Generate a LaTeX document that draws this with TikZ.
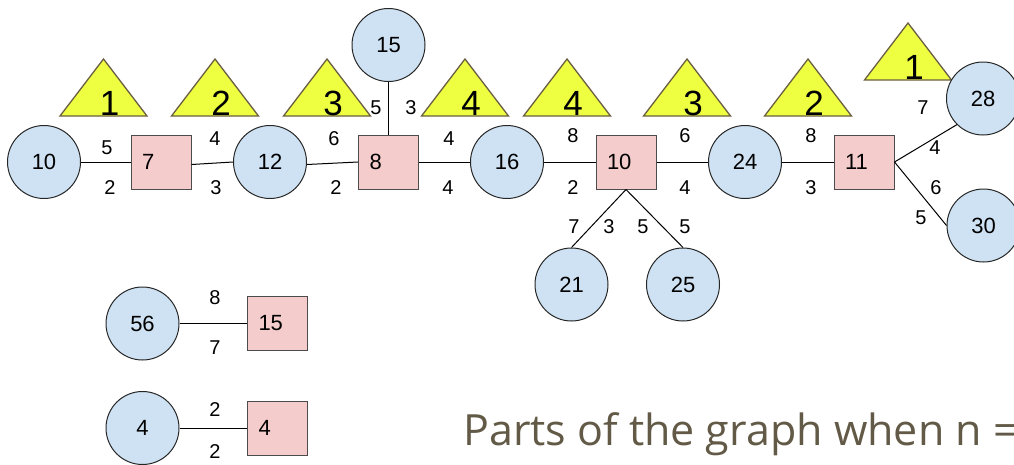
\documentclass[tikz,border=0pt]{standalone}
\usepackage{fontspec}
\setmainfont{Liberation Sans}
\newfontfamily\captionfont{Open Sans}
\definecolor{circfill}{HTML}{CFE2F3}
\definecolor{sqfill}{HTML}{F4CCCC}
\definecolor{trifill}{HTML}{EEFF41}
\definecolor{triedge}{HTML}{6B5E42}
\definecolor{captioncol}{HTML}{625A47}
\begin{document}
\begin{tikzpicture}[x=1pt,y=-1pt,
  vert/.style={circle,draw=black!85,line width=1pt,fill=circfill,minimum size=73pt,inner sep=0pt,font=\fontsize{22}{22}\selectfont},
  sq/.style={rectangle,draw=black!70,line width=1pt,fill=sqfill,minimum height=54pt,text width=38pt,inner xsep=11pt,inner ysep=0pt,align=left,font=\fontsize{22}{22}\selectfont},
  edge/.style={draw=black,line width=1pt},
  wt/.style={inner sep=0pt,font=\fontsize{20}{20}\selectfont},
  trif/.style={fill=trifill,draw=triedge,line width=1.3pt,line join=miter},
  trinum/.style={anchor=base,inner sep=0pt,font=\fontsize{35}{35}\selectfont}]
\useasboundingbox (0,0) rectangle (1014,464);

% yellow triangles: apex x / base y / number
\foreach \ax/\by/\num [count=\i] in {103.5/116/1,215/116/2,327/116/3,465/116/4,567/116/4,687/116/3,808/116/2,908/80/1}{
  \draw[trif] (\ax-43.5,\by) -- (\ax,\by-57) -- (\ax+43.5,\by) -- cycle;
  \node[trinum] (t\i) at (\ax+6,\by-1) {\num};
}

% main chain
\node[vert] (c10) at (44,162) {10};
\node[sq]   (s7)  at (161,162) {7};
\node[vert] (c12) at (270,162) {12};
\node[sq]   (s8)  at (388.5,162) {8};
\node[vert] (c15) at (388.5,45) {15};
\node[vert] (c16) at (507,162) {16};
\node[sq]   (s10) at (626,162) {10};
\node[vert] (c24) at (745,162) {24};
\node[sq]   (s11) at (864,162) {11};
\node[vert] (c28) at (983,98.5) {28};
\node[vert] (c30) at (983.5,225.5) {30};
\node[vert] (c21) at (571.5,284.5) {21};
\node[vert] (c25) at (683,284.5) {25};

% separate pieces
\node[vert] (c56) at (142.5,323.5) {56};
\node[sq]   (s15) at (277.5,323.5) {15};
\node[vert] (c4)  at (142.5,428) {4};
\node[sq]   (s4)  at (277.5,428) {4};

% connectors
\draw[edge] (c10.east) -- (s7.west);
\draw[edge] ([yshift=-2.5pt]s7.east) -- (c12.west);
\draw[edge] ([yshift=-2.5pt]c12.east) -- (s8.west);
\draw[edge] (c15.south) -- (s8.north);
\draw[edge] (s8.east) -- (c16.west);
\draw[edge] (c16.east) -- (s10.west);
\draw[edge] (s10.east) -- (c24.west);
\draw[edge] (c24.east) -- (s11.west);
\draw[edge] (s11.east) -- (c28.225);
\draw[edge] (s11.east) -- (c30.west);
\draw[edge] (s10.south) -- (c21.north);
\draw[edge] (s10.south) -- (c25.north);
\draw[edge] (c56.east) -- (s15.west);
\draw[edge] (c4.east) -- (s4.west);

% weights
\node[wt] (w1)  at (107,148) {5};
\node[wt] (w2)  at (110,188) {2};
\node[wt] (w3)  at (215,139) {4};
\node[wt] (w4)  at (216,188) {3};
\node[wt] (w5)  at (334,139) {6};
\node[wt] (w6)  at (336,188) {2};
\node[wt] (w7)  at (376,108) {5};
\node[wt] (w8)  at (411,108) {3};
\node[wt] (w9)  at (449,139) {4};
\node[wt] (w10) at (448,188) {4};
\node[wt] (w11) at (573,136) {8};
\node[wt] (w12) at (573,188) {2};
\node[wt] (w13) at (685,136) {6};
\node[wt] (w14) at (685,188) {4};
\node[wt] (w15) at (811,136) {8};
\node[wt] (w16) at (811,188) {3};
\node[wt] (w17) at (923,108) {7};
\node[wt] (w18) at (935,148) {4};
\node[wt] (w19) at (936,188) {6};
\node[wt] (w20) at (921,218) {5};
\node[wt] (w21) at (574,227) {7};
\node[wt] (w22) at (609,227) {3};
\node[wt] (w23) at (643,227) {5};
\node[wt] (w24) at (685,227) {5};
\node[wt] (w25) at (215,298) {8};
\node[wt] (w26) at (215,348) {7};
\node[wt] (w27) at (215,410) {2};
\node[wt] (w28) at (215,452) {2};

% caption, running off the right edge
\node[anchor=base west,inner sep=0pt,text=captioncol,font=\captionfont\fontsize{43}{43}\selectfont] (cap) at (463,445) {Parts of the graph when n =};
\end{tikzpicture}
\end{document}
